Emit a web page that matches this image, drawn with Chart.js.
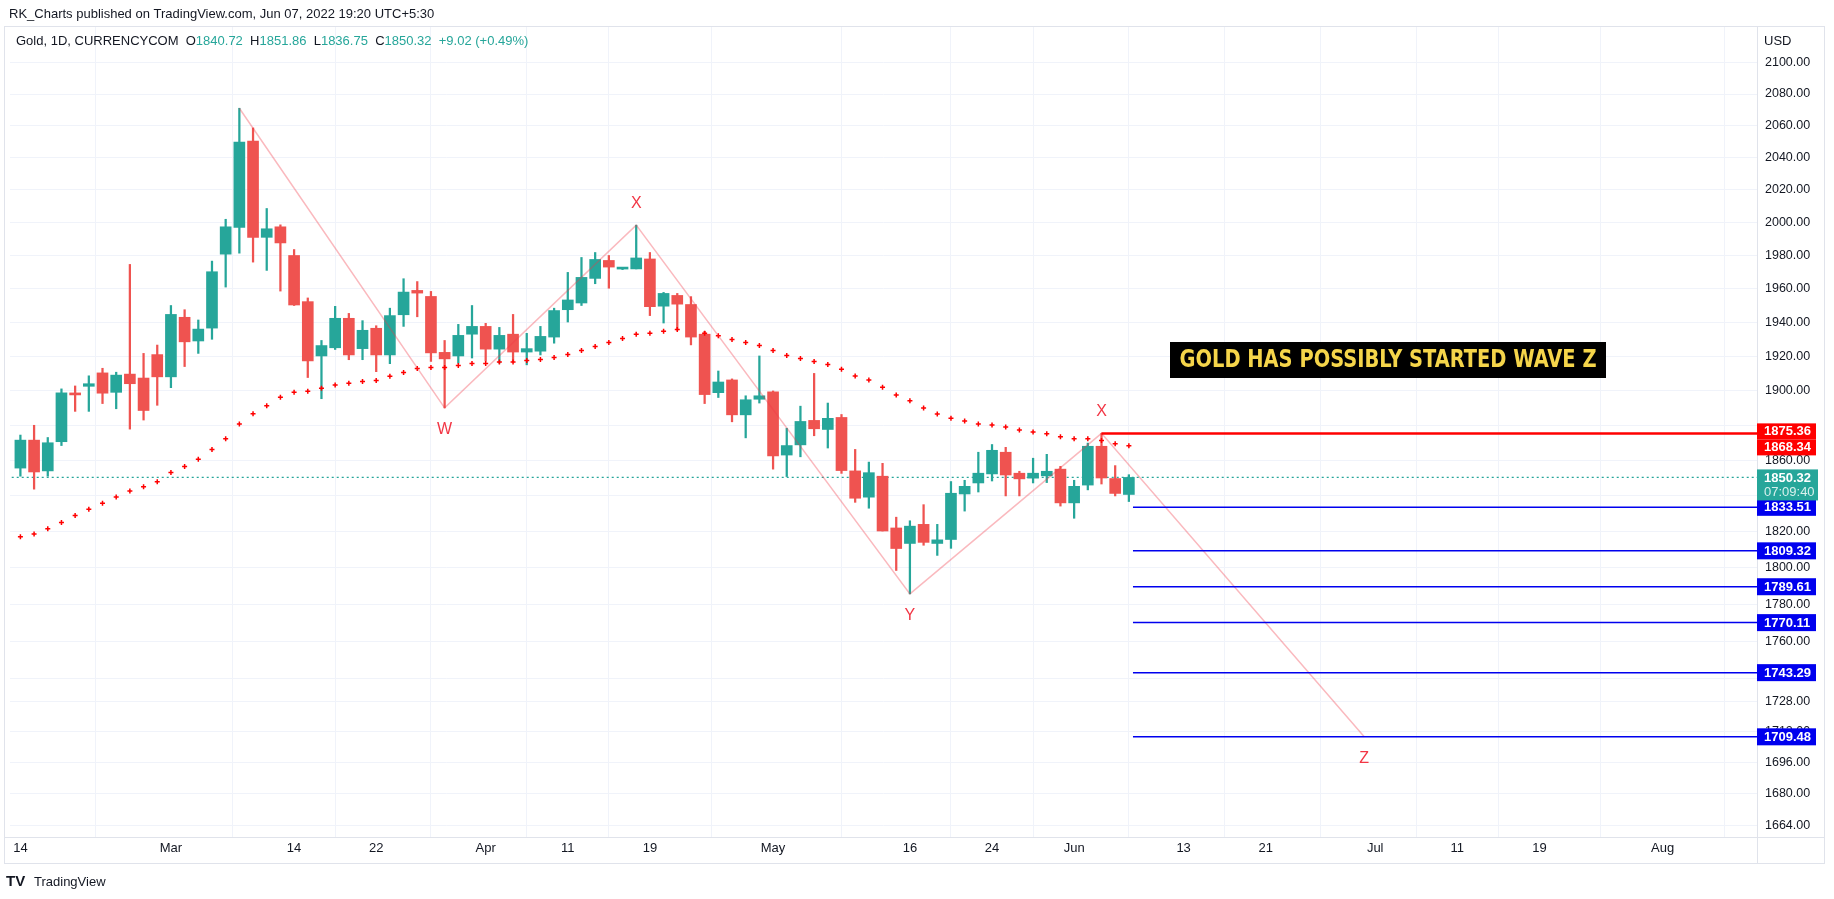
<!DOCTYPE html>
<html>
<head>
<meta charset="utf-8">
<script src="https://cdn.jsdelivr.net/npm/chart.js@4"></script>
<style>
  html, body { margin: 0; padding: 0; background: #fff; }
  #wrap { position: relative; width: 1834px; height: 899px; }
</style>
</head>
<body>
<div id="wrap"><canvas id="goldChart" width="1834" height="899"></canvas></div>
<script>
// daily candles, index 0 = Feb 14 2022 (weekdays only)
const opens = [1855.6,1871.5,1854,1870.6,1898.6,1902.5,1910.3,1899,1909.6,1907.3,1921,1908,1943,1929,1936.6,1980.8,1997,2050.4,1991,1997.4,
  1980,1952.3,1920.2,1925,1942.4,1924.5,1936.5,1920.8,1944.5,1959,1955.4,1922.3,1920.2,1933,1937.6,1924.2,1933,1922.5,1923,1931.3,
  1947.5,1951.5,1966.2,1977,1971.8,1971.9,1977.9,1949.6,1956,1950.6,1933,1898.8,1906.2,1886,1895,1899.3,1863,1868.8,1882.8,1877.6,
  1884.5,1854,1839.2,1851,1822,1813.4,1824,1813.4,1815.6,1841,1847.2,1852.3,1864.6,1852.7,1849.9,1851.2,1855,1836,1846,1868,1849.7,1840.72];
const highs = [1874.4,1880,1873,1901,1902.7,1908.6,1913,1910.7,1974.6,1921.7,1926.6,1950,1947.5,1941.4,1976.6,2002,2071,2058.6,2008.6,1998.6,
  1983.6,1954.5,1929.3,1949.5,1945.3,1941,1938,1948.4,1966,1964.3,1958.4,1929.3,1938.8,1950,1939.4,1937,1944.7,1933.5,1937.6,1948.4,
  1969.8,1978.8,1981.8,1980,1972.5,1998.4,1981.8,1957.8,1957.2,1955.3,1934.7,1911.4,1906.8,1897,1920.2,1899.8,1878.3,1891,1910,1892.8,
  1886.2,1866.2,1859,1858.3,1828,1826,1835,1824,1848,1848.7,1864.6,1869,1867.4,1853.8,1861.2,1863.4,1856.6,1848.7,1869.8,1875.36,1857,1851.86];
const lows = [1851,1843.7,1851,1868.4,1888,1888,1892.5,1889.5,1877.8,1883,1891.5,1901.7,1914,1921.7,1930,1961,1981.4,1976,1971,1958.6,
  1950,1907.6,1895.3,1924,1918,1918,1911,1915.7,1937.6,1943.3,1917,1890,1916,1919,1917.3,1916,1916.7,1915,1920.8,1927.7,
  1940.2,1950,1963,1960.3,1971.5,1971.9,1944,1939.6,1935.4,1926.7,1892.5,1896,1882,1872.8,1892.8,1855,1850.8,1862,1874,1867,
  1852.6,1836.3,1833,1820.3,1798.5,1785.7,1812.4,1806.8,1810.7,1831.4,1842.1,1848.3,1839.9,1839.9,1847.2,1847.4,1834.2,1827.4,1843.3,1846.6,1839.9,1836.75];
const closes = [1871.5,1853.4,1870,1898.7,1897.5,1904,1898.5,1909,1904,1888.5,1908,1944.7,1928.5,1936,1970.2,1997.4,2049.8,1991,1996.2,1987.6,
  1950.3,1917.3,1926.3,1942.4,1920.8,1935.3,1920.8,1944,1958,1957.4,1922,1918.5,1932.3,1937.6,1924.2,1932.3,1922.5,1924.5,1931.7,1947,
  1953.3,1966.8,1977.6,1973,1972.2,1978.5,1949.3,1957.2,1950.8,1931.3,1897.7,1905,1886,1894.7,1897,1862.5,1868.4,1882.2,1878,1884,
  1854.2,1838.6,1853,1820.3,1810.6,1823,1814,1815.4,1841.4,1845.3,1852.7,1865.7,1851.7,1849.5,1852.7,1853.8,1836,1845.3,1868,1850,1841.3,1850.32];
// parabolic SAR
const sar = [1817.1,1818.7,1821.6,1825,1829,1832.5,1835.8,1839.3,1842.7,1845,1847.9,1853.1,1856.5,1860.6,1866.1,1872.3,1880.7,1886.6,1891.3,1896.2,
  1899.1,1899.6,1901.3,1903.2,1904.2,1905.3,1905.9,1908.3,1910.5,1912.8,1913.5,1913.5,1914.6,1915.8,1915.8,1916.7,1916.7,1917.5,1918.1,1919.3,
  1921,1923.4,1925.8,1928.1,1930.5,1932.9,1933.5,1934.7,1935.7,null,1933.5,1932.1,1929.8,1928.1,1926.3,1923.4,1920.4,1918.7,1917,1915.2,
  1912.4,1908.5,1906.2,1902,1897.5,1894.2,1889.9,1886.5,1884.1,1882.4,1880.7,1880.1,1879,1877.3,1876.2,1875.1,1873.4,1872.3,1872.3,1871.3,1869.5,1868.34];
// W-X-Y-X-Z wave path
const waveIdx = [16, 31, 45, 65, 79, 98.2];
const wavePrice = [2071, 1890, 1998.4, 1785.7, 1875.36, 1709.48];
const waveNames = ['', 'W', 'X', 'Y', 'X', 'Z'];
const waveBelow = [false, true, false, true, false, true];
// target levels
const redLevel = 1875.36;
const blueLevels = [1833.51, 1809.32, 1789.61, 1770.11, 1743.29, 1709.48];
const lastPrice = 1850.32;
// axis ticks
const dateTickIdx = [0, 11, 20, 26, 34, 40, 46, 55, 65, 71, 77, 85, 91, 99, 105, 111, 120];
const dateTickLabels = ['14', 'Mar', '14', '22', 'Apr', '11', '19', 'May', '16', '24', 'Jun', '13', '21', 'Jul', '11', '19', 'Aug'];
const priceTicks = [2100, 2080, 2060, 2040, 2020, 2000, 1980, 1960, 1940, 1920, 1900, 1880, 1860, 1840, 1820, 1800, 1780, 1760, 1740, 1728, 1712, 1696, 1680, 1664];
const hiddenTicks = [1880, 1840, 1740];

const UP = '#26a69a', DOWN = '#ef5350';
const candleColors = opens.map((o, i) => closes[i] >= o ? UP : DOWN);
const idx = opens.map((_, i) => i);

const framePlugin = {
  id: 'frame',
  beforeDraw(chart) {
    const ctx = chart.ctx;
    ctx.save();
    ctx.fillStyle = '#fff';
    ctx.fillRect(0, 0, chart.width, chart.height);
    ctx.strokeStyle = '#e0e3eb';
    ctx.lineWidth = 1;
    ctx.strokeRect(4.5, 26.5, 1820, 837);
    ctx.beginPath();
    ctx.moveTo(1757.5, 27); ctx.lineTo(1757.5, 863);
    ctx.moveTo(4, 837.5); ctx.lineTo(1824, 837.5);
    ctx.stroke();
    ctx.fillStyle = '#131722';
    ctx.font = '13px "Liberation Sans", sans-serif';
    ctx.textBaseline = 'middle';
    ctx.fillText('RK_Charts published on TradingView.com, Jun 07, 2022 19:20 UTC+5:30', 9, 14);
    ctx.fillText('USD', 1764, 41);
    ctx.font = 'bold 15px "Liberation Sans", sans-serif';
    ctx.fillText('TV', 6, 882);
    ctx.font = '13px "Liberation Sans", sans-serif';
    ctx.fillText('TradingView', 34, 882);
    ctx.restore();
  },
  afterDraw(chart) {
    const ctx = chart.ctx;
    const x = chart.scales.x, y = chart.scales.y;
    ctx.save();
    // legend line
    ctx.textBaseline = 'middle';
    ctx.font = '13px "Liberation Sans", sans-serif';
    let px = 16;
    const parts = [['Gold, 1D, CURRENCYCOM  ', '#131722'], ['O', '#131722'], ['1840.72  ', UP], ['H', '#131722'], ['1851.86  ', UP],
      ['L', '#131722'], ['1836.75  ', UP], ['C', '#131722'], ['1850.32  ', UP], ['+9.02 (+0.49%)', UP]];
    parts.forEach(([t, c]) => { ctx.fillStyle = c; ctx.fillText(t, px, 41); px += ctx.measureText(t).width; });
    // wave labels
    ctx.font = '16px "Liberation Sans", sans-serif';
    ctx.fillStyle = '#f23645';
    ctx.textAlign = 'center';
    waveIdx.forEach((w, i) => {
      if (!waveNames[i]) return;
      const yy = y.getPixelForValue(wavePrice[i]) + (waveBelow[i] ? 22 : -22);
      ctx.fillText(waveNames[i], x.getPixelForValue(w), yy);
    });
    // title box
    ctx.fillStyle = '#000';
    ctx.fillRect(1170, 342, 436, 36);
    ctx.font = 'bold 24px "DejaVu Sans Condensed", "DejaVu Sans", sans-serif';
    const title = 'GOLD HAS POSSIBLY STARTED WAVE Z';
    const tw = ctx.measureText(title).width;
    ctx.save();
    ctx.translate(1388, 361);
    ctx.scale(417 / tw, 1);
    ctx.fillStyle = '#f5d54a';
    ctx.fillText(title, 0, 0);
    ctx.restore();
    // price tags on the axis
    const tag = (text, bg, yy, h) => {
      ctx.fillStyle = bg;
      ctx.fillRect(1757, yy - h / 2, 59, h);
      ctx.fillStyle = '#fff';
      ctx.font = 'bold 13px "Liberation Sans", sans-serif';
      ctx.textAlign = 'left';
      ctx.fillText(text, 1764, yy + 0.5);
    };
    const ry = y.getPixelForValue(redLevel);
    tag('1875.36', '#ff0000', ry - 2, 16);
    tag('1868.34', '#ff0000', ry + 14, 16);
    blueLevels.forEach(v => tag(v.toFixed(2), '#0000ee', y.getPixelForValue(v), 17));
    const ly = y.getPixelForValue(lastPrice);
    ctx.fillStyle = UP;
    ctx.fillRect(1757, ly - 8, 61, 31);
    ctx.fillStyle = '#fff';
    ctx.font = 'bold 13px "Liberation Sans", sans-serif';
    ctx.fillText('1850.32', 1764, ly + 1);
    ctx.fillStyle = '#d8f0ed';
    ctx.font = '13px "Liberation Sans", sans-serif';
    ctx.fillText('07:09:40', 1764, ly + 15);
    ctx.restore();
  }
};

const levelSet = (v, from, color, width) => ({
  type: 'line', data: [{ x: from, y: v }, { x: 130, y: v }], borderColor: color, borderWidth: width,
  pointRadius: 0, order: 1
});

new Chart(document.getElementById('goldChart'), {
  data: {
    datasets: [
      { type: 'bar', data: idx.map(i => ({ x: i, y: [lows[i], highs[i]] })), backgroundColor: candleColors,
        barThickness: 1.6, grouped: false, order: 5 },
      { type: 'bar', data: idx.map(i => ({ x: i, y: [opens[i], closes[i]] })), backgroundColor: candleColors,
        barThickness: 11, grouped: false, minBarLength: 2, order: 4 },
      { type: 'line', data: idx.map(i => ({ x: i, y: sar[i] })), showLine: false, pointStyle: 'cross',
        pointRadius: 2.5, pointBorderColor: '#ff0000', pointBorderWidth: 1.5, order: 3 },
      { type: 'line', data: waveIdx.map((w, i) => ({ x: w, y: wavePrice[i] })), borderColor: 'rgba(242,54,69,0.35)',
        borderWidth: 1.5, pointRadius: 0, order: 2 },
      { type: 'line', data: [{ x: -1, y: lastPrice }, { x: 130, y: lastPrice }], borderColor: UP, borderWidth: 1.2,
        borderDash: [2, 3], pointRadius: 0, order: 6 },
      levelSet(redLevel, 79, '#ff0000', 2.5),
      ...blueLevels.map(v => levelSet(v, 81.3, '#0000ee', 1.5))
    ]
  },
  options: {
    responsive: false,
    animation: false,
    events: [],
    layout: { padding: { top: 27, left: 10, right: 11, bottom: 36 } },
    plugins: { legend: { display: false }, tooltip: { enabled: false } },
    scales: {
      x: {
        type: 'linear', min: -0.76, max: 126.9, offset: false,
        afterBuildTicks: s => { s.ticks = dateTickIdx.map(v => ({ value: v })); },
        afterFit: s => { s.height = 26; },
        ticks: {
          autoSkip: false, maxRotation: 0, color: '#131722', font: { size: 13, family: 'Liberation Sans' }, padding: 4,
          callback: v => dateTickLabels[dateTickIdx.indexOf(v)]
        },
        grid: { color: '#f0f3fa', drawTicks: false },
        border: { display: false }
      },
      y: {
        type: 'logarithmic', position: 'right', min: 1658, max: 2123,
        afterBuildTicks: s => { s.ticks = priceTicks.map(v => ({ value: v })); },
        afterFit: s => { s.width = 66; },
        ticks: {
          autoSkip: false, color: '#131722', font: { size: 12.5, family: 'Liberation Sans' }, padding: 8,
          callback: v => hiddenTicks.includes(v) ? '' : v.toFixed(2)
        },
        grid: { color: '#f0f3fa', drawTicks: false },
        border: { display: false }
      }
    }
  },
  plugins: [framePlugin]
});
</script>
</body>
</html>
